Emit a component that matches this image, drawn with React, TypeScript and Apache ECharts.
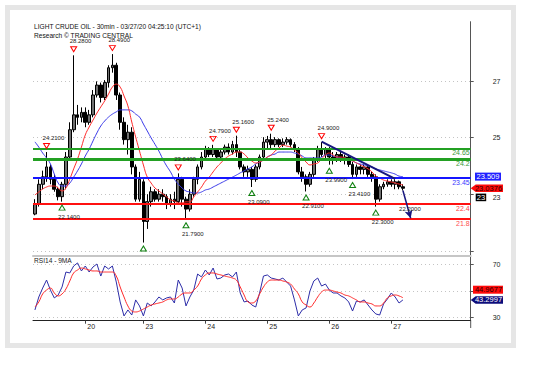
import { useEffect, useRef } from 'react';
import * as echarts from 'echarts';

const FONT = '"Liberation Sans", Arial, sans-serif';

// ---------- data ----------
const dayLabels = ['20', '23', '24', '25', '26', '27'];
const dayStartIndex = [13, 28, 44, 60, 76, 92];
const categoryCount = 113;
const categories = Array.from({ length: categoryCount }, (_, i) => `b${i}`);

const open = [
  22.0, 22.4, 23.2, 23.5, 23.9, 23.4, 23.0, 22.7, 23.2, 24.3,
  25.4, 26.0, 25.9, 26.1, 25.7, 26.0, 26.8, 27.2, 26.7, 27.3,
  27.9, 28.0, 26.8, 25.7, 25.0, 25.3, 23.9, 22.6, 23.3, 21.7,
  22.5, 22.9, 22.6, 22.8, 22.7, 22.4, 22.6, 22.5, 23.4, 22.6,
  22.2, 22.8, 23.4, 23.9, 24.3, 24.6, 24.4, 24.6, 24.3, 24.5,
  24.7, 24.5, 24.8, 24.5, 23.9, 23.7, 23.8, 23.4, 23.9, 24.3,
  24.9, 25.0, 24.8, 25.0, 24.8, 24.9, 25.0, 24.8, 24.6, 23.7,
  23.5, 23.2, 23.6, 24.2, 24.6, 24.4, 24.6, 24.3, 24.2, 24.4,
  24.2, 24.3, 24.0, 23.6, 23.9, 23.8, 23.9, 23.6, 23.5, 22.6,
  23.1, 23.2, 23.3, 23.2, 23.3, 23.1,
];
const close = [
  22.4, 23.2, 23.5, 23.9, 23.4, 23.0, 22.7, 23.2, 24.3, 25.4,
  26.0, 25.9, 26.1, 25.7, 26.0, 26.8, 27.2, 26.7, 27.3, 27.9,
  28.0, 26.8, 25.7, 25.0, 25.3, 23.9, 22.6, 23.4, 21.7, 22.5,
  22.9, 22.6, 22.8, 22.7, 22.4, 22.6, 22.5, 23.4, 22.6, 22.2,
  22.8, 23.4, 23.9, 24.3, 24.6, 24.4, 24.6, 24.3, 24.5, 24.7,
  24.5, 24.8, 24.5, 23.9, 23.7, 23.8, 23.4, 23.9, 24.3, 24.9,
  25.0, 24.8, 25.0, 24.8, 24.9, 25.0, 24.8, 24.6, 23.7, 23.5,
  23.2, 23.6, 24.2, 24.6, 24.4, 24.6, 24.3, 24.2, 24.4, 24.2,
  24.3, 24.0, 23.6, 23.9, 23.8, 23.9, 23.6, 23.5, 22.6, 23.1,
  23.2, 23.3, 23.2, 23.3, 23.1, 23.04,
];
const low = [
  21.95, 22.3, 23.0, 23.3, 23.2, 22.9, 22.55, 22.5, 23.0, 24.2,
  25.3, 25.6, 25.7, 25.5, 25.6, 25.9, 26.7, 26.5, 26.6, 27.1,
  27.7, 26.6, 25.4, 24.8, 24.4, 23.6, 22.5, 22.5, 20.85, 21.4,
  22.3, 22.5, 22.5, 22.5, 22.2, 22.3, 22.2, 22.4, 22.3, 21.79,
  22.1, 22.7, 23.2, 23.8, 24.2, 24.3, 24.3, 24.2, 24.2, 24.4,
  24.4, 24.4, 24.3, 23.8, 23.5, 23.5, 23.09, 23.3, 23.8, 24.2,
  24.6, 24.6, 24.7, 24.7, 24.7, 24.8, 24.7, 24.5, 23.6, 23.3,
  22.91, 23.1, 23.5, 24.1, 24.3, 24.2, 23.99, 24.0, 24.1, 24.1,
  24.0, 23.9, 23.41, 23.5, 23.6, 23.6, 23.5, 23.3, 22.3, 22.5,
  23.0, 23.1, 23.1, 23.0, 23.0, 22.95,
];
const high = [
  22.6, 23.4, 23.75, 24.5, 24.0, 23.6, 23.1, 23.3, 24.5, 25.7,
  28.4, 26.4, 26.3, 26.3, 26.2, 27.0, 27.35, 27.3, 27.4, 28.0,
  28.45, 28.1, 26.9, 25.9, 25.6, 25.5, 24.0, 23.7, 23.4, 22.8,
  23.1, 23.0, 23.0, 23.0, 22.8, 22.8, 22.9, 23.64, 23.5, 22.7,
  23.0, 23.5, 24.0, 24.5, 24.75, 24.7, 24.79, 24.65, 24.6, 24.8,
  24.85, 24.95, 25.16, 24.6, 24.0, 23.95, 23.9, 24.0, 24.4, 25.1,
  25.15, 25.24, 25.1, 25.05, 25.05, 25.1, 25.05, 24.9, 24.7, 23.9,
  23.6, 23.7, 24.3, 24.75, 24.9, 24.7, 24.7, 24.5, 24.5, 24.5,
  24.4, 24.4, 24.1, 24.0, 24.0, 24.0, 23.95, 23.7, 23.6, 23.2,
  23.3, 23.4, 23.4, 23.4, 23.35, 23.2,
];
const maFast = [
  22.77, 22.89, 23.01, 23.09, 23.13, 23.13, 23.05, 22.93, 23.05, 23.41,
  23.82, 24.22, 24.7, 25.19, 25.51, 25.79, 26.07, 26.32, 26.56, 26.84,
  27.12, 27.24, 27.12, 26.76, 26.36, 25.71, 25.11, 24.54, 23.98, 23.49,
  23.25, 23.05, 22.93, 22.81, 22.69, 22.57, 22.53, 22.45, 22.45, 22.49,
  22.49, 22.69, 22.89, 23.09, 23.33, 23.49, 23.7, 23.9, 24.06, 24.22,
  24.34, 24.42, 24.5, 24.5, 24.42, 24.26, 24.14, 24.06, 24.1, 24.18,
  24.3, 24.38, 24.54, 24.66, 24.78, 24.74, 24.7, 24.58, 24.46, 24.26,
  24.1, 23.98, 24.02, 24.06, 24.22, 24.38, 24.46, 24.38, 24.3, 24.3,
  24.26, 24.18, 24.14, 24.06, 23.98, 23.9, 23.82, 23.7, 23.53, 23.45,
  23.37, 23.33, 23.29, 23.25, 23.21, 23.17,
];
const maSlow = [
  24.91, 24.7, 24.46, 24.26, 24.02, 23.61, 23.25, 23.13, 23.13, 23.25,
  23.49, 23.74, 24.02, 24.34, 24.62, 24.95, 25.27, 25.55, 25.75, 25.91,
  26.03, 26.12, 26.2, 26.2, 26.2, 26.16, 26.03, 25.91, 25.63, 25.35,
  25.07, 24.81, 24.54, 24.22, 23.94, 23.7, 23.41, 23.21, 23.05, 22.93,
  22.89, 22.85, 22.85, 22.89, 22.97, 23.01, 23.09, 23.17, 23.25, 23.33,
  23.41, 23.49, 23.57, 23.66, 23.74, 23.82, 23.9, 24.02, 24.1, 24.18,
  24.3, 24.38, 24.42, 24.5, 24.5, 24.5, 24.5, 24.46, 24.42, 24.34,
  24.26, 24.26, 24.26, 24.26, 24.3, 24.38, 24.38, 24.34, 24.3, 24.26,
  24.22, 24.18, 24.14, 24.06, 24.02, 23.98, 23.94, 23.9, 23.82, 23.78,
  23.74, 23.7, 23.66, 23.61, 23.53, 23.51,
];
const rsi = [
  35.8, 45.5, 52.2, 58.2, 50.7, 44.8, 47.0, 53.0, 64.2, 63.5,
  68.7, 71.0, 65.0, 68.7, 64.2, 68.0, 70.2, 61.2, 68.7, 66.5,
  68.7, 56.7, 41.8, 31.3, 35.8, 32.0, 43.3, 38.8, 31.3, 41.0,
  38.8, 41.8, 45.5, 43.3, 44.8, 45.5, 41.0, 58.2, 52.2, 38.8,
  45.5, 50.7, 62.7, 60.5, 65.7, 62.0, 67.2, 59.0, 59.7, 62.0,
  62.7, 60.5, 64.2, 48.5, 41.8, 42.5, 39.5, 38.0, 48.5, 61.2,
  62.0, 59.7, 59.0, 58.2, 59.7, 56.7, 53.7, 43.3, 31.3, 35.8,
  37.3, 50.0, 57.5, 59.7, 53.7, 55.2, 50.7, 48.5, 48.5, 46.3,
  44.8, 41.8, 35.0, 42.5, 41.8, 43.3, 39.5, 35.8, 32.8, 32.0,
  40.3, 44.0, 48.5, 45.5, 41.0, 43.3,
];
const rsiMa = [
  38.0, 41.8, 47.8, 50.7, 52.2, 48.5, 46.3, 47.8, 51.5, 57.5,
  63.5, 65.7, 67.2, 66.5, 65.7, 65.0, 65.0, 64.2, 64.2, 64.2,
  64.2, 61.2, 53.0, 45.5, 38.8, 35.0, 34.3, 35.0, 36.5, 38.0,
  39.5, 40.3, 41.0, 41.8, 43.3, 44.0, 44.0, 45.5, 47.8, 48.5,
  48.5, 50.7, 53.7, 59.0, 62.0, 63.5, 63.5, 62.7, 62.0, 61.2,
  60.5, 59.7, 58.2, 53.0, 47.0, 41.8, 41.0, 42.5, 47.8, 53.0,
  56.7, 58.2, 58.2, 58.2, 57.5, 56.7, 55.2, 51.5, 47.8, 41.8,
  39.5, 38.0, 41.0, 45.5, 49.2, 50.7, 50.7, 50.0, 49.2, 48.5,
  47.0, 46.3, 44.8, 43.3, 41.8, 41.8, 41.0, 40.3, 38.8, 38.8,
  41.0, 44.8, 46.3, 47.0, 46.3, 44.97,
];

const levels = [24.65, 24.2, 23.45, 22.4, 21.8];
const highMarkIndex = [3, 10, 20, 37, 46, 52, 61, 74];
const highMarkText = ['24.2100', '28.2800', '28.4900', '23.6400', '24.7900', '25.1600', '25.2400', '24.9000'];
const lowMarkIndex = [7, 28, 39, 56, 70, 76, 82, 88];
const lowMarkText = ['22.1400', '', '21.7900', '23.0900', '22.9100', '23.9900', '23.4100', '22.3000'];
const trendFrom = [74, 24.92];
const trendTo = [93, 23.42];
const arrowFrom = [95, 22.95];
const arrowTo = [97, 21.83];
const targetPoint = [94, 22.2];
const targetText = '22.2000';

const lastPrice = 23.0376;
const lastSlowMa = 23.509;
const lastRsi = 43.2997;
const lastRsiMa = 44.9677;
const priceAxisTag = 23;

const priceTicks = [21, 23, 25, 27];
const priceTickLabels = [23, 25, 27];
const rsiTicks = [30, 50, 70];
const rsiTickLabels = [30, 70];

// ---------- styles ----------
const levelStyle = [
  { color: '#23a023', width: 2, text: '#3a9a3a' },
  { color: '#23a023', width: 3, text: '#3a9a3a' },
  { color: '#1515ff', width: 2, text: '#3a3aff' },
  { color: '#ff1010', width: 2, text: '#ff4040' },
  { color: '#ff1010', width: 2, text: '#ff5050' },
];

export default function App() {
  const ref = useRef<HTMLDivElement>(null);

  useEffect(() => {
    const chart = echarts.init(ref.current!, undefined, { renderer: 'svg', width: 534, height: 368 });
    const gridLeft = 33;
    const gridRight = 63.3;
    const axisX = 534 - gridRight;

    const dayIdx = (i: number) => dayStartIndex.indexOf(i) >= 0;
    const candleData = open.map((o, i) => [o, close[i], low[i], high[i]]);

    const markText = { color: '#222', fontSize: 6, fontFamily: FONT };

    const highMarkers = highMarkIndex.map((idx, k) => ({
      coord: [idx, high[idx]],
      symbol: 'path://M0,0L10,0L5,8Z',
      symbolSize: [6, 5],
      symbolOffset: [0, -6],
      itemStyle: { color: 'rgba(255,255,255,0)', borderColor: '#ff0000', borderWidth: 1 },
      label: { show: true, formatter: highMarkText[k], position: 'top', distance: 2, align: 'left', offset: [-4, 0], ...markText },
    }));
    const lowMarkers = lowMarkIndex.map((idx, k) => ({
      coord: [idx, low[idx]],
      symbol: 'path://M5,0L10,8L0,8Z',
      symbolSize: [6, 5],
      symbolOffset: [0, 6],
      itemStyle: { color: 'rgba(255,255,255,0)', borderColor: '#108010', borderWidth: 1 },
      label: { show: lowMarkText[k] !== '', formatter: lowMarkText[k] || ' ', position: 'bottom', distance: 3, align: 'left', offset: [-4, 0], ...markText },
    }));
    const targetMarker = {
      coord: targetPoint,
      symbol: 'circle',
      symbolSize: 0.1,
      itemStyle: { color: 'rgba(0,0,0,0)' },
      label: { show: true, formatter: targetText, position: 'inside', align: 'left', offset: [0, 0], ...markText },
    };

    const levelLines = levels.map((v, k) => ({
      yAxis: v,
      lineStyle: { color: levelStyle[k].color, width: levelStyle[k].width, type: 'solid' },
      label: {
        show: true,
        position: 'insideEndBottom',
        formatter: String(v),
        color: levelStyle[k].text,
        fontSize: 7,
        fontFamily: FONT,
        distance: [1, 1],
      },
    }));
    const navyLine = { color: '#16167e', width: 2, type: 'solid' };
    const arrowLine = { color: '#16167e', width: 1.5, type: 'solid' };

    const dotted = { show: true, lineStyle: { color: '#c4c4c4', type: [1, 3], width: 1 } };
    const axisLabelStyle = { fontSize: 7, color: '#222', fontFamily: FONT };

    chart.setOption({
      animation: false,
      backgroundColor: '#ffffff',
      grid: [
        { left: gridLeft, right: gridRight, top: 21.7, height: 234.3 },
        { left: gridLeft, right: gridRight, top: 256, height: 64.7 },
      ],
      xAxis: [
        {
          type: 'category', gridIndex: 0, data: categories, boundaryGap: true,
          axisLine: { show: true, lineStyle: { color: '#c6c6c6', width: 2 } },
          axisTick: { show: false }, axisLabel: { show: false }, splitLine: { show: false },
        },
        {
          type: 'category', gridIndex: 1, data: categories, boundaryGap: true,
          axisLine: { show: true, lineStyle: { color: '#222', width: 1 } },
          axisTick: { show: true, alignWithLabel: true, interval: (i: number) => dayIdx(i), length: 3, lineStyle: { color: '#444' } },
          axisLabel: {
            show: true, interval: (i: number) => dayIdx(i), align: 'left', margin: 2, padding: [0, 0, 0, 2],
            formatter: (_v: string, i: number) => dayLabels[dayStartIndex.indexOf(i)] ?? '',
            ...axisLabelStyle,
          },
          splitLine: { show: false },
        },
      ],
      yAxis: [
        {
          type: 'value', gridIndex: 0, position: 'right', min: 20.308, max: 29.756,
          axisLine: { show: true, lineStyle: { color: '#555', width: 1 } },
          axisTick: { show: false }, axisLabel: { show: false }, splitLine: { show: false },
        },
        {
          type: 'value', gridIndex: 0, position: 'right', min: 20.827, max: 29.092,
          axisLine: { show: false },
          axisTick: { show: true, customValues: priceTicks, length: 3, lineStyle: { color: '#555' } },
          axisLabel: {
            show: true, customValues: priceTickLabels, margin: 22, ...axisLabelStyle,
            formatter: (v: number) => (v === priceAxisTag ? `{low|${v}}` : `${v}`),
            rich: { low: { padding: [7, 0, 0, 0], fontSize: 7, color: '#222', fontFamily: FONT } },
          },
          splitLine: dotted,
        },
        {
          type: 'value', gridIndex: 1, position: 'right', min: 27.75, max: 76.2,
          axisLine: { show: true, lineStyle: { color: '#555', width: 1 } },
          axisTick: { show: true, customValues: rsiTicks, length: 3, lineStyle: { color: '#555' } },
          axisLabel: { show: true, customValues: rsiTickLabels, margin: 22, ...axisLabelStyle },
          splitLine: dotted,
        },
      ],
      series: [
        {
          type: 'candlestick', xAxisIndex: 0, yAxisIndex: 0, data: candleData, barWidth: 3.2,
          itemStyle: { color: '#707070', color0: '#000000', borderColor: '#000000', borderColor0: '#000000', borderWidth: 1 },
          markPoint: { silent: true, animation: false, data: [...highMarkers, ...lowMarkers, targetMarker] },
        },
        {
          type: 'line', xAxisIndex: 0, yAxisIndex: 0, data: maSlow, showSymbol: false, smooth: true,
          lineStyle: { color: '#3a3ae8', width: 1 },
        },
        {
          type: 'line', xAxisIndex: 0, yAxisIndex: 0, data: maFast, showSymbol: false, smooth: true,
          lineStyle: { color: '#ff2a2a', width: 1 },
          markLine: {
            silent: true, animation: false, symbol: ['none', 'none'],
            data: [
              ...levelLines,
              [
                { coord: trendFrom, lineStyle: navyLine, label: { show: false } },
                { coord: trendTo, lineStyle: navyLine, label: { show: false } },
              ],
              [
                { coord: arrowFrom, lineStyle: arrowLine, label: { show: false }, symbol: 'none' },
                { coord: arrowTo, lineStyle: arrowLine, label: { show: false }, symbol: 'arrow', symbolSize: [6, 8] },
              ],
            ],
          },
        },
        {
          type: 'line', xAxisIndex: 1, yAxisIndex: 2, data: rsi, showSymbol: false,
          lineStyle: { color: '#2d2da8', width: 1 },
        },
        {
          type: 'line', xAxisIndex: 1, yAxisIndex: 2, data: rsiMa, showSymbol: false, smooth: true,
          lineStyle: { color: '#ff2a2a', width: 1 },
        },
      ],
    });

    const yPx = (axisIndex: number, v: number) => chart.convertToPixel({ yAxisIndex: axisIndex }, v) as number;
    const tagFont = `7.5px ${FONT}`;
    const yLast = yPx(0, lastPrice);
    const ySlow = yPx(0, lastSlowMa);
    const yAxisTag = yPx(1, priceAxisTag) + 3;
    const yRsi = yPx(2, lastRsi);
    const yRsiMa = yPx(2, lastRsiMa) - 8;

    const arrowTag = (y: number, fill: string) => ({
      type: 'polygon',
      shape: { points: [[axisX, y], [axisX + 5, y - 3.8], [503, y - 3.8], [503, y + 3.8], [axisX + 5, y + 3.8]] },
      style: { fill },
      z: 10,
    });
    const tagText = (text: string, y: number, fill: string, x = 489) => ({
      type: 'text',
      style: { text, x, y, fill, font: tagFont, align: 'center', verticalAlign: 'middle' },
      z: 11,
    });

    chart.setOption({
      graphic: [
        {
          type: 'rect', shape: { x: 7.5, y: 7.5, width: 506, height: 338 },
          style: { fill: '#ffffff', stroke: '#e6e6e6', lineWidth: 5 }, z: -10, silent: true,
        },
        {
          type: 'text', z: 5,
          style: { text: 'LIGHT CRUDE OIL - 30min - 03/27/20 04:25:10 (UTC+1)', x: 34, y: 26, fill: '#111', font: `6.6px ${FONT}`, verticalAlign: 'middle' },
        },
        {
          type: 'text', z: 5,
          style: { text: 'Research © TRADING CENTRAL', x: 34, y: 35, fill: '#111', font: `6.6px ${FONT}`, verticalAlign: 'middle' },
        },
        {
          type: 'text', z: 5,
          style: { text: 'RSI14 - 9MA', x: 34, y: 260, fill: '#222', font: `6.6px ${FONT}`, verticalAlign: 'middle' },
        },
        {
          type: 'line', z: 5, shape: { x1: axisX, y1: 320.7, x2: axisX, y2: 328 },
          style: { stroke: '#555', lineWidth: 1 },
        },
        { type: 'rect', shape: { x: 475, y: ySlow - 4, width: 26, height: 8 }, style: { fill: '#2020ff' }, z: 10 },
        tagText(String(lastSlowMa), ySlow, '#ffffff', 488),
        arrowTag(yLast, '#ff0a0a'),
        tagText(String(lastPrice), yLast, '#300000', 488.5),
        { type: 'rect', shape: { x: 475.7, y: yAxisTag - 3.8, width: 10.5, height: 7.6 }, style: { fill: '#000000' }, z: 10 },
        tagText(String(priceAxisTag), yAxisTag, '#ffffff', 481),
        { type: 'rect', shape: { x: 473, y: yRsiMa - 4, width: 30, height: 8 }, style: { fill: '#ff0a0a' }, z: 10 },
        tagText(String(lastRsiMa), yRsiMa, '#300000', 488.5),
        arrowTag(yRsi, '#0c0c7a'),
        tagText(String(lastRsi), yRsi, '#ffffff', 488.5),
      ],
    });

    return () => chart.dispose();
  }, []);

  return <div ref={ref} style={{ position: 'fixed', left: 0, top: 0, width: 534, height: 368 }} />;
}
